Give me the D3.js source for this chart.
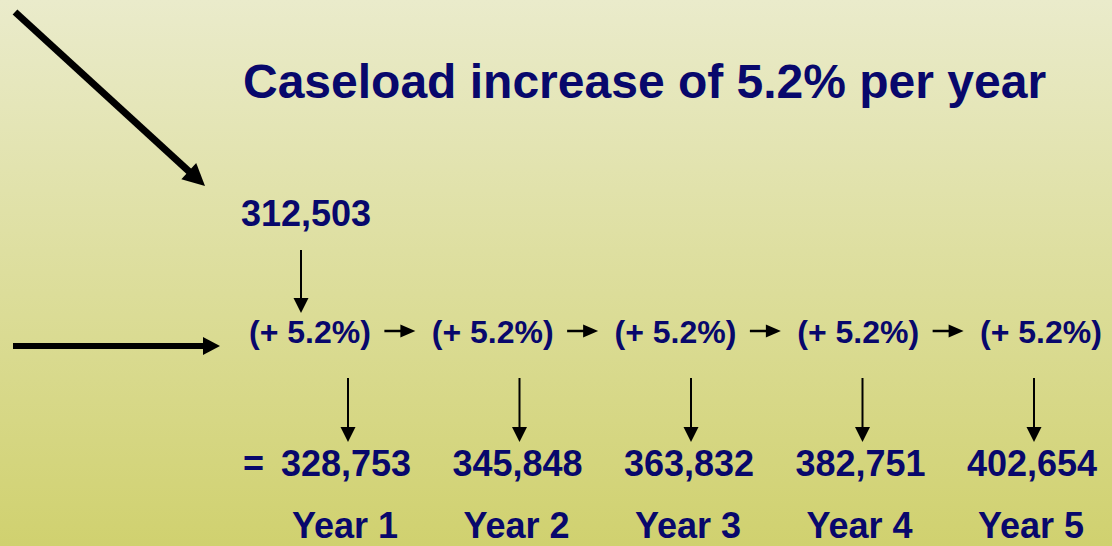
<!DOCTYPE html>
<html>
<head>
<meta charset="utf-8">
<script src="https://cdn.jsdelivr.net/npm/d3@7"></script>
<style>
  html, body { margin: 0; padding: 0; overflow: hidden; }
  svg { display: block; }
</style>
</head>
<body>
<svg id="chart" width="1112" height="546"></svg>
<script>
const title = "Caseload increase of 5.2% per year";
const startValue = 312503;
const years = ["Year 1", "Year 2", "Year 3", "Year 4", "Year 5"];
const values = [328753, 345848, 363832, 382751, 402654];
const increases = ["(+ 5.2%)", "(+ 5.2%)", "(+ 5.2%)", "(+ 5.2%)", "(+ 5.2%)"];

const W = 1112, H = 546;
const navy = "#08086c";
const font = "'Liberation Sans', Arial, sans-serif";
const svg = d3.select("#chart");

// background gradient
const defs = svg.append("defs");
const grad = defs.append("linearGradient").attr("id", "bg").attr("x1", 0).attr("y1", 0).attr("x2", 0).attr("y2", 1);
grad.append("stop").attr("offset", "0%").attr("stop-color", "#eaebcb");
grad.append("stop").attr("offset", "100%").attr("stop-color", "#d0d16f");
svg.append("rect").attr("width", W).attr("height", H).attr("fill", "url(#bg)");

// arrow helper: line + triangular head
function arrow(g, x1, y1, x2, y2, sw, headLen, headW) {
  const dx = x2 - x1, dy = y2 - y1, L = Math.hypot(dx, dy);
  const ux = dx / L, uy = dy / L, px = -uy, py = ux;
  const bx = x2 - ux * headLen, by = y2 - uy * headLen;
  g.append("line").attr("x1", x1).attr("y1", y1).attr("x2", bx + ux * 1).attr("y2", by + uy * 1)
    .attr("stroke", "#000").attr("stroke-width", sw);
  g.append("path")
    .attr("d", `M${x2},${y2}L${bx + px * headW / 2},${by + py * headW / 2}L${bx - px * headW / 2},${by - py * headW / 2}Z`)
    .attr("fill", "#000");
}

const g = svg.append("g");

// scales
const colX = d3.scalePoint().domain(years).range([348, 1034]);
const pctX = d3.scalePoint().domain(d3.range(increases.length)).range([310, 1041]);

// Title
g.append("text").attr("x", 243).attr("y", 98)
  .attr("font-family", font).attr("font-weight", "bold").attr("font-size", 48)
  .attr("fill", navy).text(title);

// Decorative big arrows
arrow(g, 15, 12, 205, 186, 7, 22, 22);
arrow(g, 13, 346, 220, 346, 6, 17, 18);

// Start value
const fmt = d3.format(",");
g.append("text").attr("x", 241).attr("y", 226)
  .attr("font-family", font).attr("font-weight", "bold").attr("font-size", 36)
  .attr("fill", navy).text(fmt(startValue));
arrow(g, 301, 250, 301, 313, 2, 15, 15);

// Increase labels
g.selectAll("text.pct").data(increases).join("text").attr("class", "pct")
  .attr("x", (d, i) => pctX(i)).attr("y", 343).attr("text-anchor", "middle")
  .attr("font-family", font).attr("font-weight", "bold").attr("font-size", 32)
  .attr("fill", navy).text(d => d);

// small arrows between increase labels
d3.range(increases.length - 1).forEach(i => {
  const mid = (pctX(i) + pctX(i + 1)) / 2;
  arrow(g, mid - 17, 331, mid + 14, 331, 2.5, 15, 13);
});

// down arrows
years.forEach(y => {
  arrow(g, colX(y), 378, colX(y), 442, 2, 15, 15);
});

// equals sign
g.append("text").attr("x", 243).attr("y", 476)
  .attr("font-family", font).attr("font-weight", "bold").attr("font-size", 36)
  .attr("fill", navy).text("=");

// values
g.selectAll("text.val").data(values).join("text").attr("class", "val")
  .attr("x", (d, i) => colX(years[i]) - 2).attr("y", 476).attr("text-anchor", "middle")
  .attr("font-family", font).attr("font-weight", "bold").attr("font-size", 36)
  .attr("fill", navy).text(d => fmt(d));

// year labels
g.selectAll("text.yr").data(years).join("text").attr("class", "yr")
  .attr("x", d => colX(d) - 3).attr("y", 538).attr("text-anchor", "middle")
  .attr("font-family", font).attr("font-weight", "bold").attr("font-size", 36)
  .attr("fill", navy).text(d => d);
</script>
</body>
</html>
